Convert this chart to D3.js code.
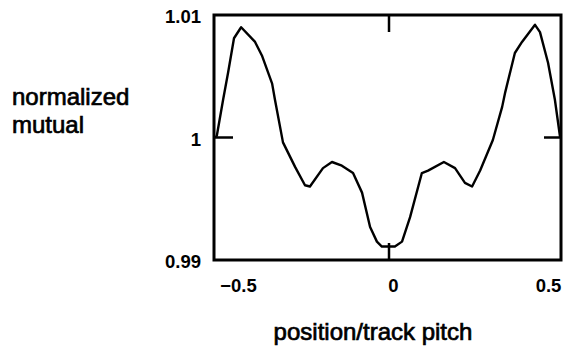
<!DOCTYPE html>
<html>
<head>
<meta charset="utf-8">
<script src="https://cdn.jsdelivr.net/npm/d3@7"></script>
<style>
  html, body { margin: 0; padding: 0; background: #fff; }
  svg { display: block; }
  .tick-label { font-family: "Liberation Sans", Arial, Helvetica, sans-serif; font-weight: bold; font-size: 18.5px; fill: #000; }
  .title { font-family: "Liberation Sans", Arial, Helvetica, sans-serif; font-size: 24px; fill: #000; stroke: #000; stroke-width: 0.7px; }
</style>
</head>
<body>
<svg id="chart" width="570" height="350"></svg>
<script>
// Normalized mutual inductance vs. head position across one track pitch
const positions = [
  -0.558, -0.555, -0.535, -0.519, -0.500, -0.477, -0.432, -0.410, -0.377, -0.368,
  -0.342, -0.303, -0.271, -0.255, -0.213, -0.184, -0.152, -0.116, -0.087, -0.061,
  -0.039, -0.023, -0.003, 0.019, 0.042, 0.068, 0.106, 0.126, 0.177, 0.213,
  0.245, 0.268, 0.294, 0.335, 0.365, 0.374, 0.406, 0.429, 0.471, 0.487,
  0.513, 0.535, 0.552
];
const mutual = [
  1.0000, 1.0002, 1.0031, 1.0053, 1.0081, 1.0090, 1.0078, 1.0067, 1.0044, 1.0031,
  0.9996, 0.9976, 0.9961, 0.9960, 0.9975, 0.9980, 0.9977, 0.9971, 0.9955, 0.9927,
  0.9915, 0.9911, 0.9911, 0.9911, 0.9915, 0.9935, 0.9971, 0.9973, 0.9980, 0.9975,
  0.9963, 0.9960, 0.9973, 0.9998, 1.0025, 1.0036, 1.0069, 1.0078, 1.0092, 1.0086,
  1.0061, 1.0031, 1.0000
];
const xTickValues = [-0.5, 0, 0.5];
const xTickLabels = ["\u22120.5", "0", "0.5"];
const yTickValues = [0.99, 1, 1.01];
const yTickLabels = ["0.99", "1", "1.01"];
const xMarkTicks = [0];     // short inward ticks on top/bottom edges
const yMarkTicks = [1];     // short inward ticks on left/right edges
const yTitleLines = ["normalized", "mutual"];
const xTitle = "position/track pitch";

const svg = d3.select("#chart");
const plot = { left: 214, right: 561, top: 15, bottom: 260 };

const x = d3.scaleLinear().domain([-0.5645, 0.5548]).range([plot.left, plot.right]);
const y = d3.scaleLinear().domain([0.99, 1.01]).range([plot.bottom, plot.top]);

const data = positions.map((p, i) => ({ x: p, y: mutual[i] }));

// Curve
const line = d3.line().x(d => x(d.x)).y(d => y(d.y)).curve(d3.curveLinear);
svg.append("path")
  .datum(data)
  .attr("d", line)
  .attr("fill", "none")
  .attr("stroke", "#000")
  .attr("stroke-width", 2.4)
  .attr("stroke-linejoin", "round");

// Frame
svg.append("rect")
  .attr("x", plot.left).attr("y", plot.top)
  .attr("width", plot.right - plot.left).attr("height", plot.bottom - plot.top)
  .attr("fill", "none").attr("stroke", "#000").attr("stroke-width", 3);

// Inward tick marks
const tickLen = 17;
xMarkTicks.forEach(v => {
  svg.append("line").attr("x1", x(v)).attr("x2", x(v))
    .attr("y1", plot.top).attr("y2", plot.top + tickLen)
    .attr("stroke", "#000").attr("stroke-width", 2.5);
  svg.append("line").attr("x1", x(v)).attr("x2", x(v))
    .attr("y1", plot.bottom).attr("y2", plot.bottom - tickLen)
    .attr("stroke", "#000").attr("stroke-width", 2.5);
});
yMarkTicks.forEach(v => {
  svg.append("line").attr("x1", plot.left).attr("x2", plot.left + tickLen + 2)
    .attr("y1", y(v)).attr("y2", y(v))
    .attr("stroke", "#000").attr("stroke-width", 2.5);
  svg.append("line").attr("x1", plot.right).attr("x2", plot.right - tickLen)
    .attr("y1", y(v)).attr("y2", y(v))
    .attr("stroke", "#000").attr("stroke-width", 2.5);
});

// Axis labels through d3 axes (tick lines hidden, the frame carries the marks)
const xAxis = d3.axisBottom(x).tickValues(xTickValues)
  .tickFormat((d, i) => xTickLabels[i]).tickSize(0).tickPadding(0);
const gx = svg.append("g").attr("transform", `translate(0,${plot.bottom})`).call(xAxis);
gx.select(".domain").remove();
gx.selectAll("text").attr("class", "tick-label")
  .attr("font-size", null).attr("font-family", null)
  .attr("y", 32).attr("dy", 0).attr("dx", 4);

const yAxis = d3.axisLeft(y).tickValues(yTickValues)
  .tickFormat((d, i) => yTickLabels[i]).tickSize(0).tickPadding(0);
const gy = svg.append("g").attr("transform", `translate(${plot.left},0)`).call(yAxis);
gy.select(".domain").remove();
gy.selectAll("text").attr("class", "tick-label")
  .attr("font-size", null).attr("font-family", null)
  .attr("x", -13).attr("dy", "0.42em");

// Titles
svg.append("text").attr("class", "title")
  .attr("x", 12).attr("y", 105)
  .selectAll("tspan").data(yTitleLines).join("tspan")
  .attr("x", 12).attr("dy", (d, i) => i === 0 ? 0 : 28)
  .text(d => d);

svg.append("text").attr("class", "title")
  .attr("x", 373).attr("y", 340).attr("text-anchor", "middle")
  .text(xTitle);
</script>
</body>
</html>
